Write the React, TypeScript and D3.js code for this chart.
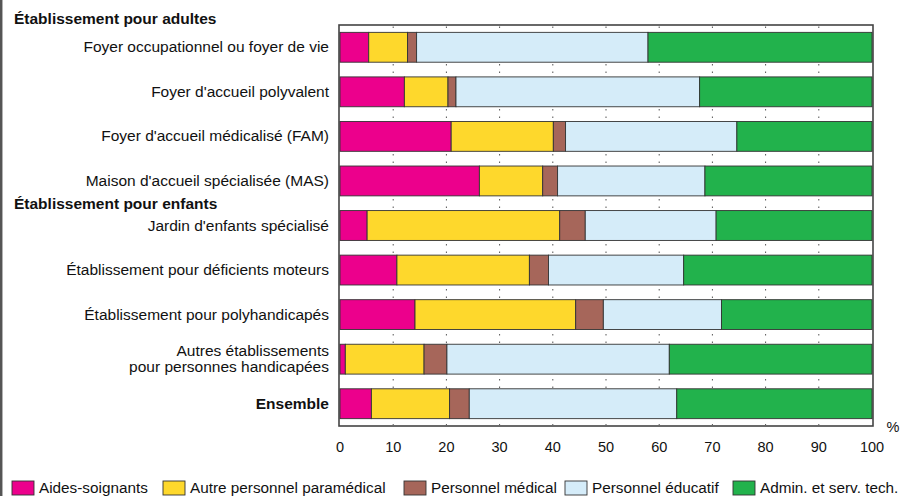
import { useEffect, useRef } from "react";
import * as d3 from "d3";

const categories = [
  "Foyer occupationnel ou foyer de vie",
  "Foyer d'accueil polyvalent",
  "Foyer d'accueil médicalisé (FAM)",
  "Maison d'accueil spécialisée (MAS)",
  "Jardin d'enfants spécialisé",
  "Établissement pour déficients moteurs",
  "Établissement pour polyhandicapés",
  "Autres établissements\npour personnes handicapées",
  "Ensemble",
];
const boldCategories = ["Ensemble"];

const groupHeadings = [
  { label: "Établissement pour adultes", before: 0 },
  { label: "Établissement pour enfants", before: 4 },
];

const aidesSoignants = [5.4, 12.1, 20.9, 26.2, 5.1, 10.7, 14.1, 1.0, 5.9];
const autreParamedical = [7.3, 8.2, 19.2, 11.9, 36.2, 24.9, 30.2, 14.8, 14.7];
const personnelMedical = [1.7, 1.5, 2.3, 2.8, 4.8, 3.6, 5.2, 4.3, 3.7];
const personnelEducatif = [43.5, 45.8, 32.2, 27.7, 24.6, 25.4, 22.2, 41.8, 39.0];
const adminServTech = [42.1, 32.4, 25.4, 31.4, 29.3, 35.4, 28.3, 38.1, 36.7];

const seriesNames = [
  "Aides-soignants",
  "Autre personnel paramédical",
  "Personnel médical",
  "Personnel éducatif",
  "Admin. et serv. tech.",
];
const seriesValues = [aidesSoignants, autreParamedical, personnelMedical, personnelEducatif, adminServTech];
const seriesColors = ["#EC008C", "#FED82C", "#A6665A", "#D5ECF9", "#22B24C"];

const xTicks = [0, 10, 20, 30, 40, 50, 60, 70, 80, 90, 100];

// legend swatch positions, as laid out in the source
const legendX = [12, 163, 404, 565, 733];
// heading baseline offset above the first bar of the group
const headingOffset = [8, 2];

const FONT = "'Liberation Sans', Arial, Helvetica, sans-serif";

export default function App() {
  const ref = useRef<SVGSVGElement>(null);

  useEffect(() => {
    const el = ref.current;
    if (!el) return;
    const W = 901, H = 496;
    const M = { top: 25, bottom: 426, left: 340, right: 872 };
    const svg = d3.select(el);
    svg.selectAll("*").remove();

    const x = d3.scaleLinear().domain([0, 100]).range([M.left, M.right]);
    const y = d3.scaleBand<number>().domain(d3.range(categories.length)).range([M.top, M.bottom])
      .paddingInner(0.33).paddingOuter(0.165);

    // left page border
    svg.append("line").attr("x1", 1.2).attr("x2", 1.2).attr("y1", 0).attr("y2", H)
      .attr("stroke", "#555").attr("stroke-width", 2.5);

    // frame
    svg.append("rect").attr("x", x(0) - 1).attr("y", M.top).attr("width", x(100) - x(0) + 2).attr("height", M.bottom - M.top)
      .attr("fill", "#fff").attr("stroke", "#444").attr("stroke-width", 1.6);

    // dotted grid
    svg.append("g").selectAll("line").data(xTicks.slice(1, -1)).join("line")
      .attr("x1", (d) => x(d)).attr("x2", (d) => x(d)).attr("y1", M.top + 1.5).attr("y2", M.bottom - 1)
      .attr("stroke", "#555").attr("stroke-width", 1).attr("stroke-dasharray", "1.5,6");

    const stacked = categories.map((_, i) => {
      let acc = 0;
      return seriesValues.map((s, k) => {
        const x0 = acc;
        acc += s[i];
        return { i, k, x0, x1: acc };
      });
    }).flat();

    svg.append("g").selectAll("rect").data(stacked).join("rect")
      .attr("x", (d) => x(d.x0)).attr("width", (d) => x(d.x1) - x(d.x0))
      .attr("y", (d) => y(d.i) ?? 0).attr("height", y.bandwidth())
      .attr("fill", (d) => seriesColors[d.k]).attr("stroke", "#333").attr("stroke-width", 0.9);

    // category labels
    const lab = svg.append("g").attr("font-family", FONT).attr("font-size", 15.5).attr("fill", "#111").attr("text-anchor", "end");
    categories.forEach((c, i) => {
      const lines = c.split("\n");
      const cy = (y(i) ?? 0) + y.bandwidth() / 2;
      const t = lab.append("text").attr("x", 329)
        .attr("font-weight", boldCategories.includes(c) ? "bold" : "normal");
      lines.forEach((ln, j) => {
        t.append("tspan").attr("x", 329).attr("y", cy + 5 + (j - (lines.length - 1) / 2) * 16).text(ln);
      });
    });

    // group headings
    svg.append("g").selectAll("text").data(groupHeadings).join("text")
      .attr("x", 14).attr("y", (d, j) => (y(d.before) ?? 0) - headingOffset[j])
      .attr("font-family", FONT).attr("font-size", 15.5).attr("font-weight", "bold").attr("fill", "#111")
      .text((d) => d.label);

    // x axis labels
    svg.append("g").selectAll("text").data(xTicks).join("text")
      .attr("x", (d) => x(d)).attr("y", 452).attr("text-anchor", "middle")
      .attr("font-family", FONT).attr("font-size", 14.5).attr("fill", "#111").text((d) => d);
    svg.append("text").attr("x", 893).attr("y", 432).attr("text-anchor", "middle")
      .attr("font-family", FONT).attr("font-size", 14.5).attr("fill", "#111").text("%");

    // legend
    const leg = svg.append("g").selectAll("g").data(seriesNames).join("g")
      .attr("transform", (_, k) => `translate(${legendX[k]},481)`);
    leg.append("rect").attr("width", 22).attr("height", 14)
      .attr("fill", (_, k) => seriesColors[k]).attr("stroke", "#333").attr("stroke-width", 0.9);
    leg.append("text").attr("x", 27).attr("y", 11.5)
      .attr("font-family", FONT).attr("font-size", 15.3).attr("fill", "#111").text((d) => d);

    svg.attr("width", W).attr("height", H);
  }, []);

  return (
    <svg ref={ref} width={901} height={496} style={{ position: "absolute", left: 0, top: 0, background: "#fff" }} />
  );
}
